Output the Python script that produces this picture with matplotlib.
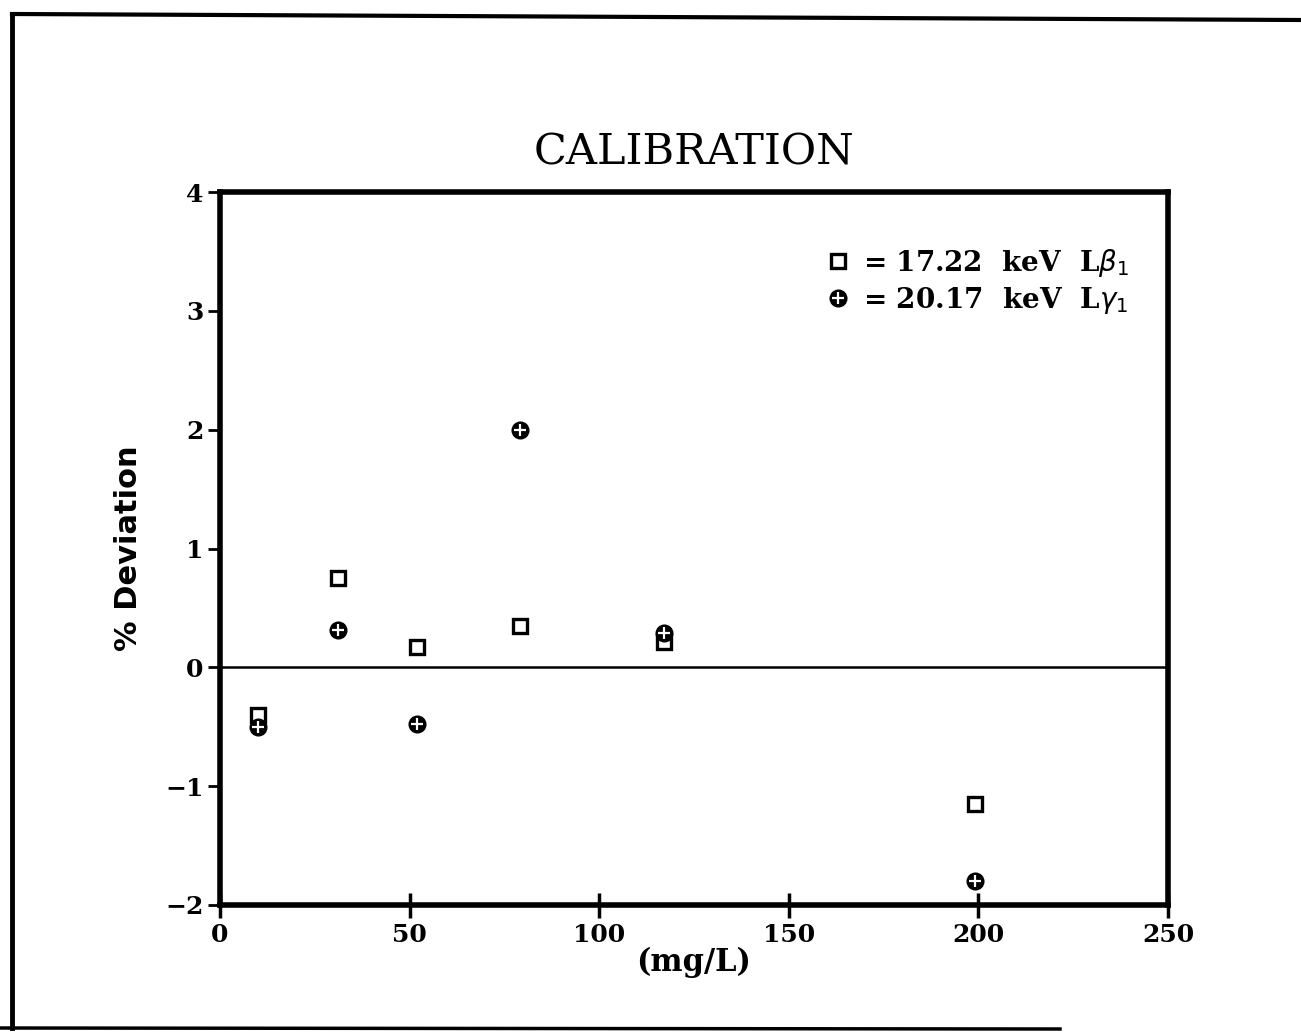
import numpy as np
import matplotlib
matplotlib.use("Agg")
import matplotlib.pyplot as plt
from matplotlib.lines import Line2D
from matplotlib.legend_handler import HandlerTuple

# concentration (mg/L) and % deviation
conc = [10, 31, 52, 79, 117, 199]
dev_lb1 = [-0.40, 0.75, 0.17, 0.35, 0.21, -1.15]   # 17.22 keV L-beta1
dev_lg1 = [-0.50, 0.31, -0.48, 2.00, 0.29, -1.80]  # 20.17 keV L-gamma1

xticks = [0, 50, 100, 150, 200, 250]
yticks = [-2, -1, 0, 1, 2, 3, 4]

serif = "DejaVu Serif"

fig = plt.figure(figsize=(13.01, 10.34), dpi=100)
ax = fig.add_axes([220/1301, 1-905/1034, (1168-220)/1301, (905-192)/1034])

# outer frame of the scanned page
fig.add_artist(Line2D([12/1301, 12/1301], [1-1028/1034, 1-14/1034], color="black", lw=3.5,
                      transform=fig.transFigure))
fig.add_artist(Line2D([12/1301, 1.0], [1-14/1034, 1-20/1034], color="black", lw=3,
                      transform=fig.transFigure))
fig.add_artist(Line2D([0.0, 1060/1301], [1-1028/1034, 1-1029/1034], color="black", lw=2.5,
                      transform=fig.transFigure))

ax.axhline(0, color="black", lw=1.8, zorder=1)

ax.plot(conc, dev_lb1, ls="none", marker="s", ms=10, mfc="white", mec="black", mew=2.4, zorder=3)
ax.plot(conc, dev_lg1, ls="none", marker="o", ms=12, mfc="black", mec="black", zorder=3)
ax.plot(conc, dev_lg1, ls="none", marker="+", ms=8, mec="white", mew=1.6, zorder=4)

ax.set_xlim(0, 250)
ax.set_ylim(-2, 4)
ax.set_xticks(xticks)
ax.set_yticks(yticks)
ax.set_xticklabels([str(t) for t in xticks], fontfamily=serif, fontweight="bold", fontsize=18)
ax.set_yticklabels([str(t).replace("-", "\u2212") for t in yticks], fontfamily=serif,
                   fontweight="bold", fontsize=18)
ax.tick_params(axis="x", direction="inout", length=18, width=2.5, pad=4)
ax.tick_params(axis="y", direction="out", length=9, width=2, pad=3)
for s in ax.spines.values():
    s.set_linewidth(4)

ax.set_title("CALIBRATION", fontfamily=serif, fontsize=31, pad=20)
ax.set_xlabel("(mg/L)", fontfamily=serif, fontweight="bold", fontsize=22, labelpad=0)
ax.set_ylabel("% Deviation", fontfamily="DejaVu Sans", fontweight="bold", fontsize=22, labelpad=16)

h_sq = Line2D([], [], ls="none", marker="s", ms=10, mfc="white", mec="black", mew=2.4)
h_c1 = Line2D([], [], ls="none", marker="o", ms=12, mfc="black", mec="black")
h_c2 = Line2D([], [], ls="none", marker="+", ms=8, mec="white", mew=1.6)
ax.legend([h_sq, (h_c1, h_c2)],
          [r"= 17.22  keV  L$\beta_1$", r"= 20.17  keV  L$\gamma_1$"],
          handler_map={tuple: HandlerTuple(ndivide=1, pad=0)},
          loc="upper right", bbox_to_anchor=(0.985, 0.958), frameon=False,
          handlelength=0.8, handletextpad=0.5, labelspacing=0.2,
          prop={"family": serif, "weight": "bold", "size": 20})

fig.savefig("out.png", dpi=100)
